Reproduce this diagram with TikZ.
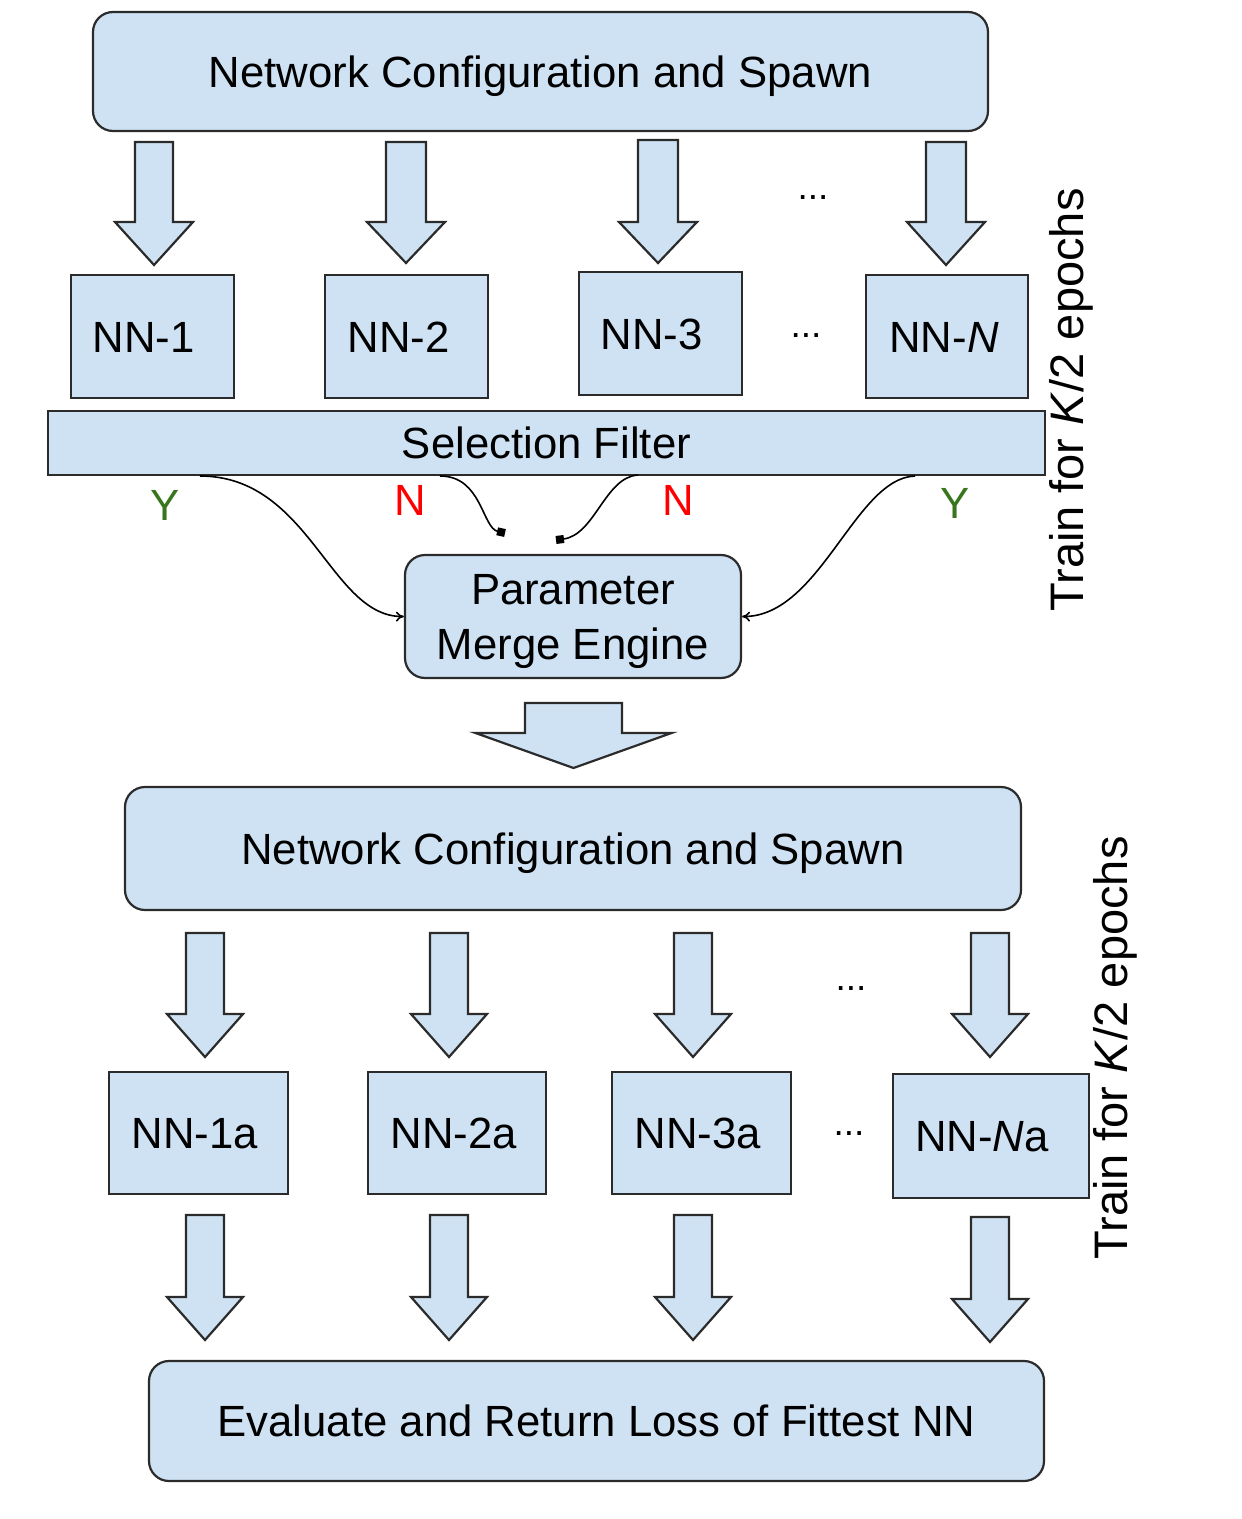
\documentclass[tikz,border=0pt]{standalone}
\usepackage{fontspec}
\setmainfont{Liberation Sans}
\usetikzlibrary{arrows.meta}
\definecolor{boxfill}{HTML}{CFE2F3}
\definecolor{boxline}{HTML}{2B2B2B}
\definecolor{ygreen}{HTML}{38761D}
\definecolor{nred}{HTML}{FF0000}
\newcommand{\blockarr}[6]{%
  \filldraw[barrow] ({#1-#5},#2) -- ({#1+#5},#2) -- ({#1+#5},#3) -- ({#1+#6},#3) -- (#1,#4) -- ({#1-#6},#3) -- ({#1-#5},#3) -- cycle;}
\newcommand{\lft}[2]{#2\hspace*{#1}}
\newcommand{\dn}[1]{\raisebox{-2.5pt}[\height][\depth]{#1}}
\tikzset{
  box/.style={draw=boxline, fill=boxfill, line width=1.1pt, inner sep=0pt, text=black,
    font=\fontsize{21.85}{27.5}\selectfont},
  capc/.style={text height=15.6pt, text depth=0pt},
  rbox/.style={box, rounded corners=10pt},
  barrow/.style={draw=boxline, fill=boxfill, line width=1.1pt, line join=miter},
  lbl/.style={inner sep=0pt, font=\fontsize{21.85}{26}\selectfont},
  dots/.style={inner sep=0pt, font=\fontsize{18.5}{20}\selectfont},
  side/.style={inner sep=0pt, rotate=90, anchor=base, font=\fontsize{23.5}{28}\selectfont},
  curve/.style={line width=0.8pt, draw=black}
}
\begin{document}
\begin{tikzpicture}[x=0.5pt,y=-0.5pt]
\useasboundingbox (0,0) rectangle (1241,1519);

% top configuration box
\node[rbox, capc, minimum width=447.5pt, minimum height=59.5pt] (cfg1) at (540.5,71.5) {Network Configuration and Spawn};

% row 1 block arrows
\blockarr{154}{142}{222}{265}{19}{39}
\blockarr{406}{142}{222}{263}{20}{39}
\blockarr{658}{140}{222}{263}{20}{39}
\blockarr{946}{142}{222}{265}{20}{39}
\node[dots] (d1) at (813,198) {...};

% NN row 1
\node[box, capc, minimum width=81.5pt, minimum height=61.5pt] (nn1) at (152.5,336.5) {\lft{9pt}{NN-1}};
\node[box, capc, minimum width=81.5pt, minimum height=61.5pt] (nn2) at (406.5,336.5) {\lft{8pt}{NN-2}};
\node[box, capc, minimum width=81.5pt, minimum height=61.5pt] (nn3) at (660.5,333.5) {\lft{9pt}{NN-3}};
\node[box, capc, minimum width=81pt, minimum height=61.5pt] (nnN) at (947,336.5) {\lft{3pt}{NN-\textit{N}}};
\node[dots] (d2) at (806,336) {...};

% selection filter
\node[box, capc, minimum width=498.5pt, minimum height=32pt] (sf) at (546.5,443) {Selection Filter};

% labels
\node[lbl, text=ygreen] (y1) at (165,505) {Y};
\node[lbl, text=ygreen] (y2) at (955,503) {Y};
\node[lbl, text=nred] (n1) at (410,500) {N};
\node[lbl, text=nred] (n2) at (678,500) {N};

% parameter merge engine
\node[rbox, minimum width=168pt, minimum height=61.5pt, align=center] (pme) at (573,616.5) {\dn{Parameter}\\\dn{Merge Engine}};

% curves
\coordinate (c1s) at (200,476);
\coordinate (c2s) at (440,476);
\coordinate (c3s) at (638,475);
\coordinate (c4s) at (915,476);
\coordinate (m1) at (505,533);
\coordinate (m2) at (556,540);
\draw[curve, -{To[length=4pt,width=5pt]}] (c1s) .. controls (310,476) and (330,617) .. (pme.west);
\draw[curve, -{Square[length=4pt,width=4pt]}] (c2s) .. controls (482,476) and (482,528) .. (m1);
\draw[curve, -{Square[length=4pt,width=4pt]}] (c3s) .. controls (605,477) and (595,535) .. (m2);
\draw[curve, -{To[length=4pt,width=5pt]}] (c4s) .. controls (855,478) and (820,617) .. (pme.east);

% big arrow
\blockarr{573.5}{703}{733}{768}{48.5}{98}

% second configuration box
\node[rbox, capc, minimum width=448pt, minimum height=61.5pt] (cfg2) at (573,848.5) {Network Configuration and Spawn};

% row 2 block arrows
\blockarr{205}{933}{1014}{1057}{19}{38}
\blockarr{449}{933}{1014}{1057}{19}{38}
\blockarr{693}{933}{1014}{1057}{19}{38}
\blockarr{990}{933}{1014}{1057}{19}{38}
\node[dots] (d3) at (851,989) {...};

% NN row 2
\node[box, capc, minimum width=89.5pt, minimum height=61pt] (nn1a) at (198.5,1133) {\lft{3.5pt}{NN-1a}};
\node[box, capc, minimum width=89pt, minimum height=61pt] (nn2a) at (457,1133) {\lft{3pt}{NN-2a}};
\node[box, capc, minimum width=89.5pt, minimum height=61pt] (nn3a) at (701.5,1133) {\lft{3.5pt}{NN-3a}};
\node[box, capc, minimum width=98pt, minimum height=62pt] (nnNa) at (991,1136) {\lft{9pt}{NN-\textit{N}a}};
\node[dots] (d4) at (849,1134) {...};

% row 3 block arrows
\blockarr{205}{1215}{1297}{1340}{19}{38}
\blockarr{449}{1215}{1297}{1340}{19}{38}
\blockarr{693}{1215}{1297}{1340}{19}{38}
\blockarr{990}{1217}{1299}{1342}{19}{38}

% bottom box
\node[rbox, capc, minimum width=447.5pt, minimum height=60pt] (eval) at (596.5,1421) {Evaluate and Return Loss of Fittest NN};

% side labels
\node[side] (t1) at (1083,400) {Train for \textit{K}/2 epochs};
\node[side] (t2) at (1127,1048) {Train for \textit{K}/2 epochs};
\end{tikzpicture}
\end{document}
